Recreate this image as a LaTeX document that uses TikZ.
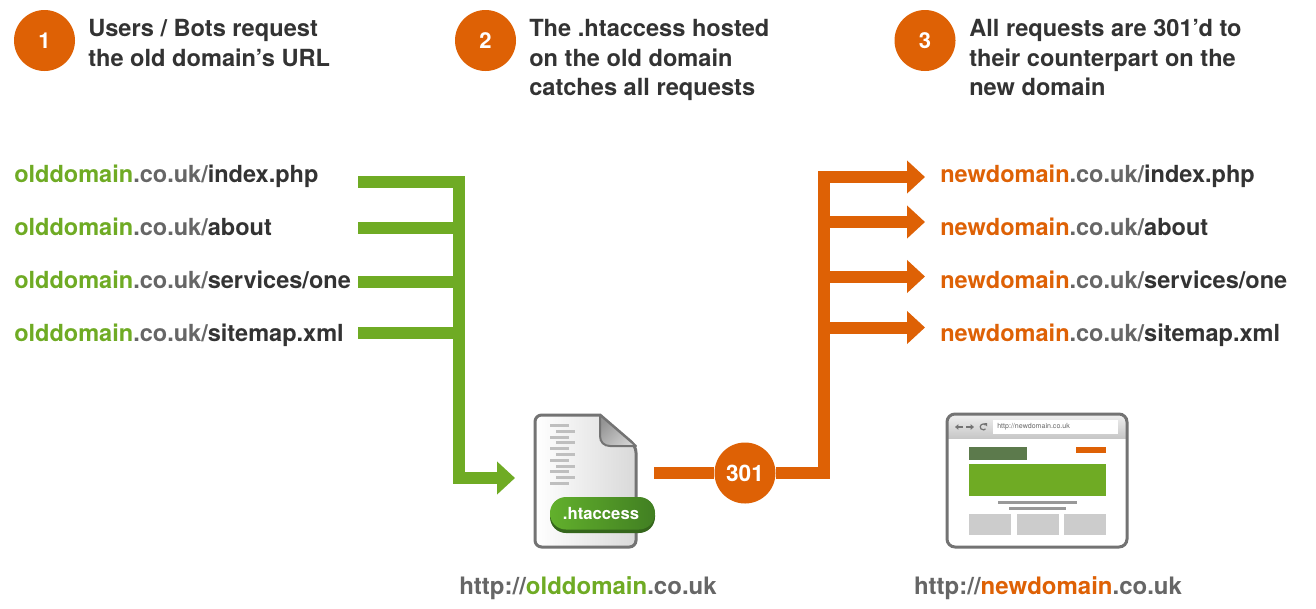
\documentclass[tikz,border=0pt]{standalone}
\usepackage{fontspec}
\setmainfont{TeX Gyre Heros}
\usetikzlibrary{arrows.meta,backgrounds,shapes.geometric}
\definecolor{gr}{HTML}{6FAB24}
\definecolor{og}{HTML}{DE6105}
\definecolor{dk}{HTML}{333333}
\definecolor{md}{HTML}{666666}
\definecolor{badgel}{HTML}{62B02C}
\definecolor{badger}{HTML}{417F22}
\definecolor{badges}{HTML}{35661C}
\definecolor{logogr}{HTML}{5C7A4C}
\newcommand{\oldd}{\textcolor{gr}{olddomain}\textcolor{md}{.co.uk/}}
\newcommand{\newd}{\textcolor{og}{newdomain}\textcolor{md}{.co.uk/}}
\tikzset{
  x=0.75pt,y=-0.75pt,
  stepnum/.style={circle,fill=og,text=white,minimum size=45.75pt,inner sep=0pt,font=\bfseries\fontsize{16.5}{18}\selectfont},
  heading/.style={anchor=north west,inner sep=0pt,align=left,text=dk,font=\bfseries\fontsize{17.7}{21.8}\selectfont},
  urltext/.style={anchor=base west,inner sep=0pt,text=dk,font=\bfseries\fontsize{17.65}{20}\selectfont},
  foot/.style={anchor=base,inner sep=0pt,text=md,font=\bfseries\fontsize{18}{20}\selectfont},
  greenbar/.style={draw=gr,line width=9pt,line join=miter},
  orangebar/.style={draw=og,line width=9pt,line join=miter},
  tipped/.style={-{Triangle[length=13.5pt,width=24pt]}},
  docline/.style={fill=black!25},
}
\begin{document}
\begin{tikzpicture}
\useasboundingbox (0,0) rectangle (1316,608);

% steps
\node[stepnum] (s1) at (44.5,40.5) {1};
\node[stepnum] (s2) at (485.5,40.5) {2};
\node[stepnum] (s3) at (925,40.5) {3};
\node[heading] (h1) at (88,19.5) {Users / Bots request\\the old domain’s URL};
\node[heading] (h2) at (529,19.5) {The .htaccess hosted\\on the old domain\\catches all requests};
\node[heading] (h3) at (969,19.5) {All requests are 301’d to\\their counterpart on the\\new domain};

% urls
\node[urltext] (o1) at (14,182) {\oldd index.php};
\node[urltext] (o2) at (14,235) {\oldd about};
\node[urltext] (o3) at (14,288) {\oldd services/one};
\node[urltext] (o4) at (14,341) {\oldd sitemap.xml};
\node[urltext] (n1) at (940,182) {\newd index.php};
\node[urltext] (n2) at (940,235) {\newd about};
\node[urltext] (n3) at (940,288) {\newd services/one};
\node[urltext] (n4) at (940,341) {\newd sitemap.xml};

% connector points
\coordinate (ga) at (358,181.5);
\coordinate (gb) at (358,227.5);
\coordinate (gc) at (358,281.5);
\coordinate (gd) at (358,333);
\coordinate (gtop) at (459,181.5);
\coordinate (gtb) at (459,227.5);
\coordinate (gtc) at (459,281.5);
\coordinate (gtd) at (459,333);
\coordinate (gbot) at (459,484);
\coordinate (gtrn) at (453,478);
\coordinate (gend) at (515,478);
\coordinate (ostart) at (654,473);
\coordinate (okn) at (824,473);
\coordinate (otop) at (824,177);
\coordinate (otl) at (818,177);
\coordinate (ota) at (824,222);
\coordinate (otb) at (824,276.5);
\coordinate (otc) at (824,327.5);
\coordinate (ea) at (925,177);
\coordinate (eb) at (925,222);
\coordinate (ec) at (925,276.5);
\coordinate (ed) at (925,327.5);

\node[stepnum,font=\bfseries\fontsize{17}{18}\selectfont] (n301) at (745,473) {301};

\begin{scope}[on background layer]
  \fill[white] (0,0) rectangle (1316,608);
  \draw[greenbar] (ga) -- (gtop) -- (gbot);
  \draw[greenbar,tipped] (gtrn) -- (gend);
  \draw[greenbar] (gb) -- (gtb);
  \draw[greenbar] (gc) -- (gtc);
  \draw[greenbar] (gd) -- (gtd);
  \draw[orangebar] (ostart) -- (n301) -- (okn) -- (otop);
  \draw[orangebar,tipped] (otl) -- (ea);
  \draw[orangebar,tipped] (ota) -- (eb);
  \draw[orangebar,tipped] (otb) -- (ec);
  \draw[orangebar,tipped] (otc) -- (ed);
\end{scope}

% htaccess file
\path[left color=white,right color=black!15,draw=black!55,line width=2.25pt,rounded corners=5pt]
  (600,415) -- (535,415) -- (535,547) -- (636,547) -- (636,446) [sharp corners] -- cycle;
\draw[black!55,line width=1.5pt,line join=round,left color=black!42,right color=black!18,shading angle=45]
  (600,415) -- (600,436) .. controls (600,442) and (604,446) .. (610,446) -- (636,446) -- cycle;
\foreach \yy in {425,437,448,460,471,483}
  \fill[docline] (550,\yy-1.5) rectangle (568.5,\yy+1.5);
\foreach \yy in {431,442,454,466,477}
  \fill[docline] (556,\yy-1.5) rectangle (574.5,\yy+1.5);
\fill[badges,rounded corners=12pt] (550,499) rectangle (655,533);
\path[left color=badgel,right color=badger,rounded corners=12pt] (550,497) rectangle (655,529.5);
\node[text=white,inner sep=0pt,font=\bfseries\fontsize{12.5}{14}\selectfont] (badge) at (601,513.5) {.htaccess};

% browser
\begin{scope}
  \clip[rounded corners=6pt] (947,414) rectangle (1127,547);
  \fill[white] (947,414) rectangle (1127,547);
  \path[top color=black!6,bottom color=black!22] (947,414) rectangle (1127,438);
\end{scope}
\draw[black!55,line width=2.25pt,rounded corners=6pt] (947,414) rectangle (1127,547);
\fill[white] (993,420) rectangle (1118,434);
\node[anchor=west,inner sep=0pt,text=black!60,font=\fontsize{5.3}{6}\selectfont] (url) at (997,427) {http://newdomain.co.uk};
\coordinate (ic1a) at (963,427); \coordinate (ic1b) at (955,427);
\coordinate (ic2a) at (966,427); \coordinate (ic2b) at (974,427);
\draw[black!55,line width=1pt,-{Triangle[length=2.5pt,width=4pt]}] (ic1a) -- (ic1b);
\draw[black!55,line width=1pt,-{Triangle[length=2.5pt,width=4pt]}] (ic2a) -- (ic2b);
\draw[black!55,line width=0.9pt] (985.5,425) arc[start angle=-40,end angle=-320,radius=3];
\fill[black!55] (984,423) -- (987,423) -- (987,426.5) -- cycle;
\fill[logogr] (969,447) rectangle (1026.5,459.5);
\fill[og] (1076,447) rectangle (1106,453);
\fill[gr] (969,464) rectangle (1106,496);
\fill[black!40] (998,500.5) rectangle (1077,504);
\fill[black!40] (1009,506.5) rectangle (1066,510);
\fill[black!20] (969,514) rectangle (1011,535);
\fill[black!20] (1016.5,514) rectangle (1058.5,535);
\fill[black!20] (1064,514) rectangle (1106,535);

% footers
\node[foot] (f1) at (588,594) {http://\textcolor{gr}{olddomain}.co.uk};
\node[foot] (f2) at (1048,594) {http://\textcolor{og}{newdomain}.co.uk};
\end{tikzpicture}
\end{document}
